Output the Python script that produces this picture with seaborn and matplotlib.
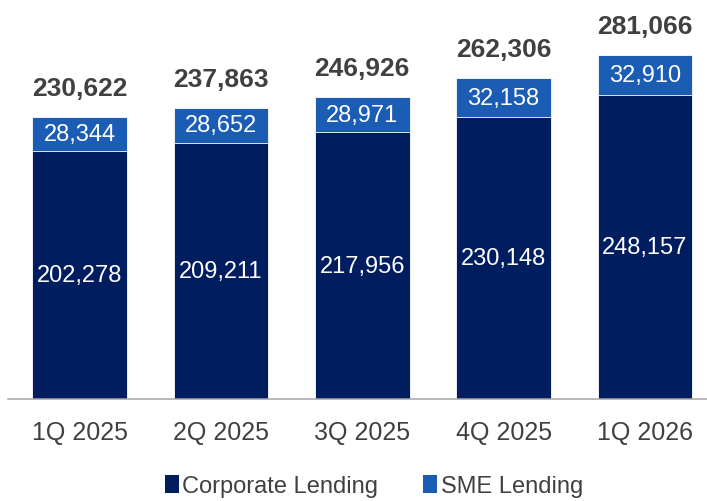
import matplotlib
matplotlib.use("Agg")
import matplotlib.pyplot as plt
from matplotlib.patches import Patch
import seaborn as sns
import pandas as pd

quarters = ["1Q 2025", "2Q 2025", "3Q 2025", "4Q 2025", "1Q 2026"]
corporate = [202278, 209211, 217956, 230148, 248157]
sme = [28344, 28652, 28971, 32158, 32910]
totals = [230622, 237863, 246926, 262306, 281066]

navy = "#001d60"
blue = "#1b5cb5"
text_grey = "#404040"

sns.set_theme(style="white")
plt.rcParams["font.family"] = ["Liberation Sans", "DejaVu Sans"]

df = pd.DataFrame({"quarter": quarters, "corporate": corporate,
                   "sme": sme, "total": totals})

fig = plt.figure(figsize=(7.07, 5.02), dpi=100)
ax = fig.add_axes([8 / 707, 1 - 400 / 502, 1 - 8 / 707, 400 / 502])

# stacked bars: full total in SME colour, corporate drawn over it
sns.barplot(data=df, x="quarter", y="total", color=blue, width=0.67,
            edgecolor="white", linewidth=0.6, saturation=1, ax=ax)
sns.barplot(data=df, x="quarter", y="corporate", color=navy, width=0.67,
            edgecolor="white", linewidth=0.6, saturation=1, ax=ax)

ax.set_xlim(-0.508, 4.44)
ax.set_ylim(0, 281066 * 400 / 344)

for i, (c, s, t) in enumerate(zip(corporate, sme, totals)):
    ax.text(i, c / 2, f"{c:,}", ha="center", va="center",
            color="white", fontsize=17)
    ax.text(i, (c + t) / 2, f"{s:,}", ha="center", va="center",
            color="white", fontsize=17)
    ax.annotate(f"{t:,}", (i, t), xytext=(0, 15.5), textcoords="offset points",
                ha="center", va="baseline", color=text_grey,
                fontsize=19, fontweight="bold")

ax.set_xlabel("")
ax.set_ylabel("")
ax.set_yticks([])
ax.tick_params(axis="x", length=0, pad=15, labelsize=18, labelcolor=text_grey)
for side in ["top", "right", "left"]:
    ax.spines[side].set_visible(False)
ax.spines["bottom"].set_color("#a6a6a6")
ax.spines["bottom"].set_linewidth(1.1)

handles = [Patch(facecolor=navy, edgecolor="none", label="Corporate Lending"),
           Patch(facecolor=blue, edgecolor="none", label="SME Lending")]
leg = fig.legend(handles=handles, loc="center", bbox_to_anchor=(374 / 707, 1 - 487 / 502),
                 ncol=2, frameon=False, fontsize=17, handlelength=0.6,
                 handleheight=0.8, handletextpad=0.15, columnspacing=1.9,
                 borderaxespad=0)
for txt in leg.get_texts():
    txt.set_color(text_grey)

fig.savefig("out.png", dpi=100, facecolor="white")
